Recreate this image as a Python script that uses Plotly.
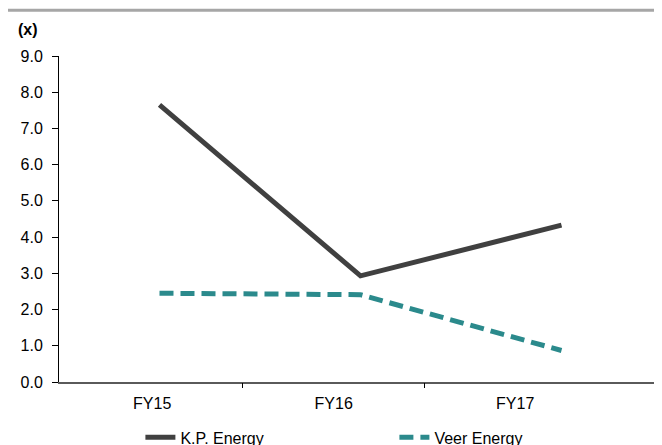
import plotly.graph_objects as go

categories = ["FY15", "FY16", "FY17"]
kp_energy = [7.65, 2.93, 4.33]
veer_energy = [2.45, 2.41, 0.87]
y_ticks = [0, 1, 2, 3, 4, 5, 6, 7, 8, 9]
y_unit_label = "(x)"

FONT = "Liberation Sans, Arial, sans-serif"
xpos = list(range(len(categories)))

fig = go.Figure()
fig.add_trace(go.Scatter(
    x=xpos, y=kp_energy, name="K.P. Energy", mode="lines",
    line=dict(color="#404040", width=5),
))
fig.add_trace(go.Scatter(
    x=xpos, y=veer_energy, name="Veer Energy", mode="lines",
    line=dict(color="#2b8a8c", width=5, dash="14px,7px"),
))
# invisible trace to carry the category label axis
fig.add_trace(go.Scatter(
    x=xpos, y=[None] * len(xpos), xaxis="x2", yaxis="y",
    showlegend=False, hoverinfo="skip", mode="lines",
))

fig.update_layout(
    width=654, height=437,
    margin=dict(l=51, r=0, t=48, b=63, autoexpand=False),
    paper_bgcolor="white", plot_bgcolor="rgba(0,0,0,0)",
    font=dict(family=FONT, size=16, color="#000000"),
    showlegend=True,
    legend=dict(
        orientation="h", x=0.135, xanchor="left", y=-0.17, yanchor="middle",
        font=dict(family=FONT, size=16, color="#000000"),
        entrywidth=209, entrywidthmode="pixels",
        bgcolor="rgba(0,0,0,0)",
    ),
    xaxis=dict(
        domain=[0, 1], range=[-0.5, 2.5], showgrid=False, zeroline=False,
        showline=True, linecolor="#5a5a5a", linewidth=2,
        showticklabels=False, ticks="",
    ),
    xaxis2=dict(
        domain=[0.004, 0.907], range=[-0.5, 2.5], anchor="y",
        tickmode="array", tickvals=xpos, ticktext=categories,
        ticks="", showgrid=False, zeroline=False, showline=False,
        tickfont=dict(family=FONT, size=16, color="#000000"),
        ticklabelstandoff=10,
        minor=dict(tickvals=[0.5, 1.5], ticks="outside", ticklen=5,
                   tickcolor="#000000", tickwidth=1, showgrid=False),
    ),
    yaxis=dict(
        range=[0, 9], tickvals=y_ticks, tickformat=".1f",
        showgrid=False, zeroline=False,
        showline=True, linecolor="#000000", linewidth=1,
        ticks="outside", ticklen=6, tickcolor="#000000", tickwidth=1,
        tickfont=dict(family=FONT, size=16, color="#000000"),
        ticklabelstandoff=6,
    ),
)

fig.add_annotation(
    text="<b>" + y_unit_label + "</b>", xref="paper", yref="paper",
    x=-0.072, y=1.08, xanchor="left", yanchor="middle", showarrow=False,
    font=dict(family=FONT, size=16, color="#000000"),
)
fig.add_shape(
    type="line", xref="paper", yref="paper",
    x0=-0.09, x1=1.0, y0=1.14, y1=1.14,
    line=dict(color="#a6a6a6", width=3),
)

fig.write_html("out.html")
